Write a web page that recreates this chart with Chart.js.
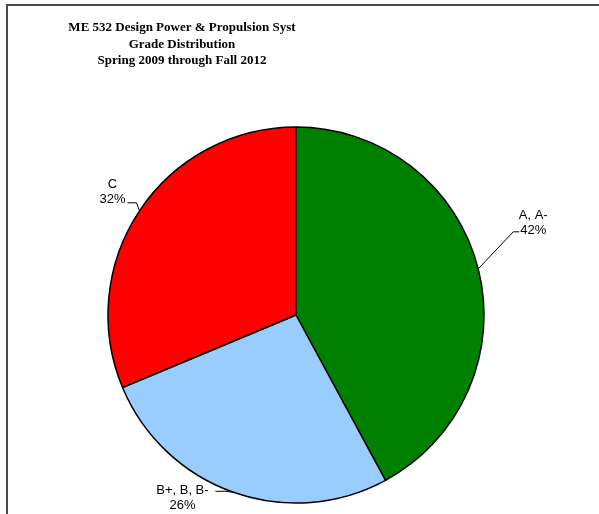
<!DOCTYPE html>
<html>
<head>
<meta charset="utf-8">
<script src="https://cdn.jsdelivr.net/npm/chart.js@4/dist/chart.umd.min.js"></script>
<style>
  html, body { margin: 0; padding: 0; background: #fff; }
  #wrap { width: 599px; height: 514px; position: relative; }
</style>
</head>
<body>
<div id="wrap"><canvas id="pie" width="599" height="514"></canvas></div>
<script>
// grade groups and their share of students (percent)
var categories = ['A, A-', 'B+, B, B-', 'C'];
var shares = [42.1, 26.6, 31.3];
var shareLabels = ['42%', '26%', '32%'];
var colors = ['#008000', '#99CCFF', '#FF0000'];
var titleLines = ['ME 532 Design Power & Propulsion Syst', 'Grade Distribution', 'Spring 2009 through Fall 2012'];

// frame (top + left edge only, the picture is cropped) and the title
var framePlugin = {
  id: 'frame',
  beforeDraw: function(chart) {
    var ctx = chart.ctx;
    ctx.save();
    ctx.fillStyle = '#fff';
    ctx.fillRect(0, 0, chart.width, chart.height);
    ctx.strokeStyle = '#4a4a4a';
    ctx.lineWidth = 2;
    ctx.beginPath();
    ctx.moveTo(7, chart.height);
    ctx.lineTo(7, 5);
    ctx.lineTo(chart.width, 5);
    ctx.stroke();
    ctx.fillStyle = '#000';
    ctx.font = 'bold 13px "Liberation Serif", "Times New Roman", serif';
    ctx.textAlign = 'center';
    ctx.textBaseline = 'middle';
    titleLines.forEach(function(t, i) {
      ctx.fillText(t, 182, 28 + i * 16.5);
    });
    ctx.restore();
  }
};

// Excel-style outside labels with leader lines, anchored to each arc
var leaderLayout = [
  { dx: 55, dy: -46, ex: 35, ey: -37, stub: 6 },
  { dx: -51, dy: 6, ex: -8, ey: -1, stub: -10 },
  { dx: -27, dy: -19, ex: -3, ey: -8, stub: -9 }
];
var labelPlugin = {
  id: 'outLabels',
  afterDatasetsDraw: function(chart) {
    var ctx = chart.ctx;
    var meta = chart.getDatasetMeta(0);
    ctx.save();
    ctx.font = '13px "Liberation Sans", Arial, sans-serif';
    ctx.textAlign = 'center';
    ctx.textBaseline = 'middle';
    meta.data.forEach(function(arc, i) {
      var p = arc.getProps(['x', 'y', 'startAngle', 'endAngle', 'outerRadius'], true);
      var mid = (p.startAngle + p.endAngle) / 2;
      var px = p.x + Math.cos(mid) * p.outerRadius;
      var py = p.y + Math.sin(mid) * p.outerRadius;
      var L = leaderLayout[i];
      ctx.strokeStyle = '#000';
      ctx.lineWidth = 1;
      ctx.beginPath();
      ctx.moveTo(px, py);
      ctx.lineTo(px + L.ex, py + L.ey);
      ctx.lineTo(px + L.ex + L.stub, py + L.ey);
      ctx.stroke();
      ctx.fillStyle = '#000';
      ctx.fillText(categories[i], px + L.dx, py + L.dy - 7.5);
      ctx.fillText(shareLabels[i], px + L.dx, py + L.dy + 7.5);
    });
    ctx.restore();
  }
};

var config = {
  type: 'pie',
  data: {
    labels: categories,
    datasets: [{
      data: shares,
      backgroundColor: colors,
      borderColor: '#000',
      borderWidth: 1.5,
      radius: 188
    }]
  },
  options: {
    responsive: false,
    animation: false,
    layout: { padding: { left: 106, right: 113, top: 125, bottom: 9 } },
    plugins: {
      legend: { display: false },
      title: { display: false },
      tooltip: { enabled: false }
    }
  },
  plugins: [framePlugin, labelPlugin]
};

var pie = new Chart(document.getElementById('pie'), config);
</script>
</body>
</html>
